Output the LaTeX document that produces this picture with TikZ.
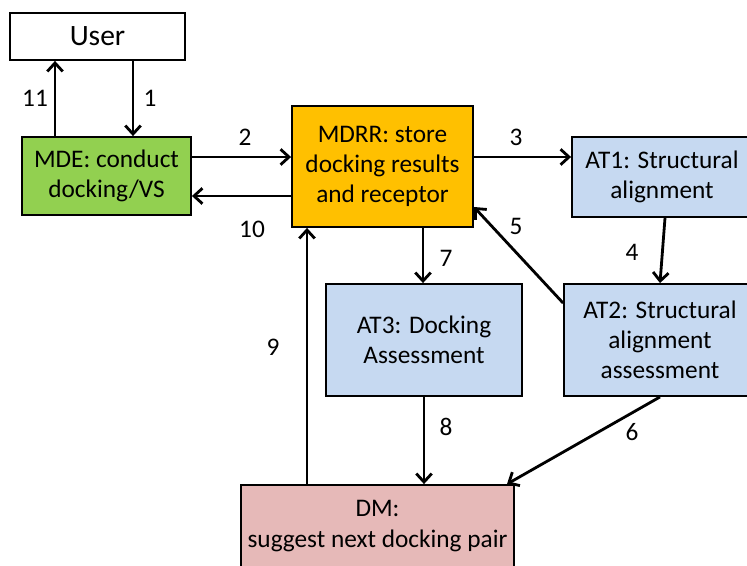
\documentclass[tikz,border=0pt]{standalone}
\usepackage{fontspec}
\setmainfont{Carlito}
\usetikzlibrary{arrows.meta}

\definecolor{mdegreen}{HTML}{92D050}
\definecolor{mdrrorange}{HTML}{FFC000}
\definecolor{atblue}{HTML}{C6D9F1}
\definecolor{dmpink}{HTML}{E6B9B8}

\tikzset{
  box/.style={draw, line width=1.3pt, align=center, inner sep=0pt, font=\fontsize{18}{21.5}\selectfont},
  flow/.style={-{Straight Barb[length=6pt,width=11pt]}, line width=2pt},
  num/.style={font=\fontsize{18}{21.5}\selectfont}
}

\begin{document}
\begin{tikzpicture}[x=0.025cm,y=-0.025cm]
  \clip (0,0) rectangle (747,565);
  \node[box, minimum width=4.375cm, minimum height=1.175cm, font=\fontsize{21}{25}\selectfont] (user) at (97.5,36.5) {User};
  \node[box, fill=mdegreen, minimum width=4.225cm, minimum height=1.95cm] (mde) at (106.5,176) {MDE: conduct\\docking/VS};
  \node[box, fill=mdrrorange, minimum width=4.525cm, minimum height=3.025cm] (mdrr) at (382.5,166.5) {MDRR: store\\docking results\\and receptor};
  \node[box, fill=atblue, minimum width=4.5cm, minimum height=2cm] (at1) at (662,177) {AT1: Structural\\alignment};
  \node[box, fill=atblue, minimum width=4.8cm, minimum height=2.8cm] (at2) at (660,340) {AT2: Structural\\alignment\\assessment};
  \node[box, fill=atblue, minimum width=4.9cm, minimum height=2.8cm] (at3) at (424,340) {AT3: Docking\\Assessment};
  \node[box, fill=dmpink, minimum width=6.825cm, minimum height=2.05cm] (dm) at (377.5,526) {DM:\\suggest next docking pair};

  % connectors
  \draw[flow] (user.south -| 133,0) -- (mde.north -| 133,0);
  \draw[flow] (mde.north -| 55,0) -- (user.south -| 55,0);
  \draw[flow] (mde.east |- 0,157) -- (mdrr.west |- 0,157);
  \draw[flow] (mdrr.west |- 0,196) -- (mde.east |- 0,196);
  \draw[flow] (mdrr.east |- 0,157) -- (at1.west |- 0,157);
  \draw[flow] (at1.south -| 665,0) -- (at2.north -| 660,0);
  \draw[flow] (at2.west |- 0,303) -- (mdrr.east |- 0,207);
  \draw[flow] (mdrr.south -| 423,0) -- (at3.north -| 423,0);
  \draw[flow] (at3.south) -- (at3.south |- dm.north);
  \draw[flow] (at2.south) -- (dm.north -| 507,0);
  \draw[flow] (dm.north -| 307,0) -- (mdrr.south -| 307,0);

  % step numbers
  \node[num] (n1) at (150,98) {1};
  \node[num] (n11) at (35,98) {11};
  \node[num] (n2) at (245,137) {2};
  \node[num] (n10) at (252,229) {10};
  \node[num] (n3) at (516,137) {3};
  \node[num] (n4) at (632,252) {4};
  \node[num] (n5) at (516,226) {5};
  \node[num] (n7) at (446,258) {7};
  \node[num] (n9) at (273,347) {9};
  \node[num] (n8) at (446,427) {8};
  \node[num] (n6) at (632,432) {6};
\end{tikzpicture}
\end{document}
